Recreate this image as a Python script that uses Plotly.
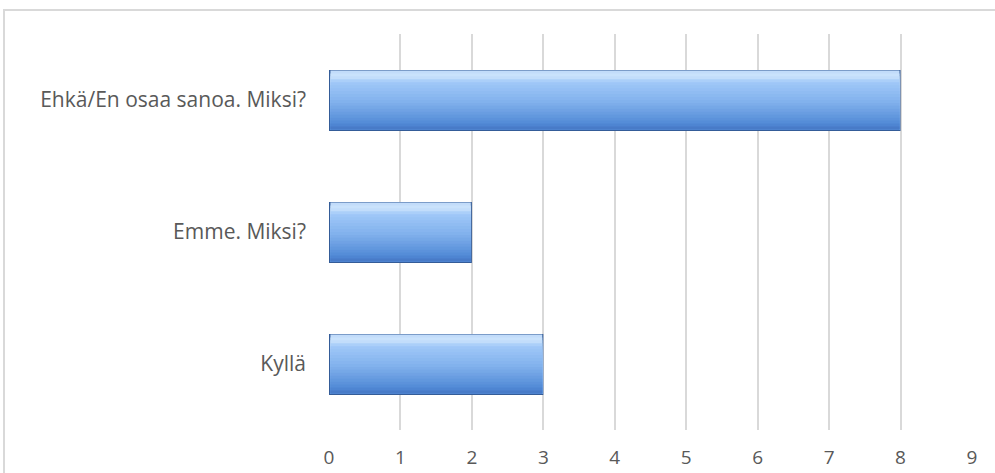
import plotly.graph_objects as go

categories = ["Kyllä", "Emme. Miksi?", "Ehkä/En osaa sanoa. Miksi?"]
values = [3, 2, 8]
tick_vals = [0, 1, 2, 3, 4, 5, 6, 7, 8, 9]

fig = go.Figure()

# bar body built as stacked horizontal bands to mimic a vertical gradient
lo, hi = -0.235, 0.228
stops = [
    (0.00, (68, 118, 196)),
    (0.10, (82, 138, 214)),
    (0.45, (128, 176, 236)),
    (0.80, (160, 200, 248)),
    (0.90, (205, 228, 252)),
    (1.00, (190, 218, 250)),
]

def col(t):
    for (t0, c0), (t1, c1) in zip(stops, stops[1:]):
        if t0 <= t <= t1:
            f = (t - t0) / (t1 - t0) if t1 > t0 else 0
            c = [round(a + (b - a) * f) for a, b in zip(c0, c1)]
            return "rgb(%d,%d,%d)" % tuple(c)
    return "rgb(%d,%d,%d)" % stops[-1][1]

# dark outline / base
fig.add_trace(go.Bar(
    y=categories, x=values, orientation="h",
    width=hi - lo, offset=lo,
    marker=dict(color="rgb(52,92,152)", line=dict(width=0)),
    hoverinfo="skip", showlegend=False,
))
n = 20
inner_lo = lo + 0.012
inner_hi = hi - 0.004
step = (inner_hi - inner_lo) / n
bands = []
for i in range(n):
    t = (i + 0.5) / n
    top = inner_lo + (i + 1) * step
    bands.append(go.Bar(
        y=categories, x=[v - 0.035 for v in values], base=0.02, orientation="h",
        width=top - inner_lo, offset=inner_lo,
        marker=dict(color=col(t), line=dict(width=0)),
        hoverinfo="skip", showlegend=False,
    ))
for b in bands[::-1]:
    fig.add_trace(b)

fig.update_layout(
    width=995, height=473,
    margin=dict(l=329, r=23, t=34, b=43, autoexpand=False),
    paper_bgcolor="white", plot_bgcolor="white",
    barmode="overlay",
    font=dict(family="Open Sans", color="#595959", size=16),
    xaxis=dict(
        range=[0, 9], tickvals=tick_vals, showgrid=True,
        gridcolor="#d9d9d9", gridwidth=1.5, zeroline=False,
        showline=False, ticks="", ticklabelstandoff=14,
        tickfont=dict(size=19, color="#595959"), automargin=False,
    ),
    yaxis=dict(
        range=[-0.5, 2.5], showgrid=False, zeroline=False,
        showline=False, ticks="", ticklabelstandoff=22,
        tickfont=dict(size=21, color="#595959"), automargin=False,
    ),
    shapes=[dict(
        type="rect", xref="paper", yref="paper",
        x0=-325 / 643, x1=1.2, y0=-0.2, y1=(473 - 10 - 43) / 396,
        line=dict(color="#d9d9d9", width=2), layer="below",
    )],
)

fig.write_html("out.html")
